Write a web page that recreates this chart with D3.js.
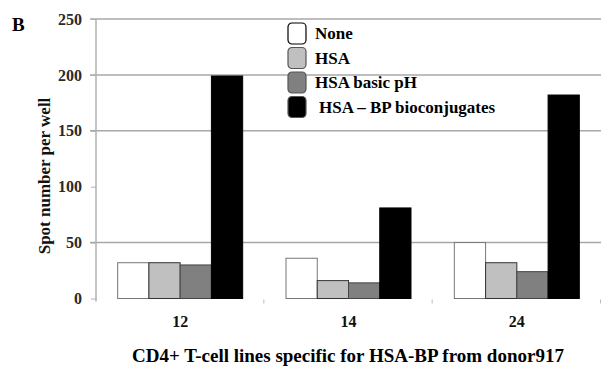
<!DOCTYPE html>
<html><head><meta charset="utf-8">
<script src="https://cdn.jsdelivr.net/npm/d3@7"></script>
<style>body{margin:0;background:#fff}svg{display:block}
text{font-family:"Liberation Serif","Times New Roman",Times,serif;}</style>
</head><body>
<svg id="c" width="601" height="374"></svg>
<script>
const categories = ["12", "14", "24"];
const seriesNames = ["None", "HSA", "HSA basic pH", "HSA \u2013 BP bioconjugates"];
const noneVals = [32, 36, 50];
const hsaVals = [32, 16, 32];
const hsaBasicVals = [30, 14, 24];
const bioconjVals = [199, 81, 182];
const yTicks = [0, 50, 100, 150, 200, 250];
const gridVals = [50, 150, 200, 250];

const seriesVals = [noneVals, hsaVals, hsaBasicVals, bioconjVals];
const fills = ["#ffffff", "#c0c0c0", "#808080", "#000000"];
const strokes = ["#777", "#333", "#444", "#000"];

const svg = d3.select("#c");
const m = {l: 96, r: 601, t: 19, b: 298.5};
const y = d3.scaleLinear().domain([0, 250]).range([m.b, m.t]);
const x0 = d3.scaleBand().domain(categories).range([m.l, m.r]);
const inner = 125;
const x1 = d3.scaleBand().domain(d3.range(4)).range([0, inner]);
const off = (x0.bandwidth() - inner) / 2;

svg.append("g").selectAll("line").data(gridVals).join("line")
  .attr("x1", m.l - 6).attr("x2", m.r)
  .attr("y1", d => y(d)).attr("y2", d => y(d))
  .attr("stroke", "#a8a8a8").attr("stroke-width", 1.5);

const ya = svg.append("g").attr("transform", `translate(${m.l},0)`)
  .call(d3.axisLeft(y).tickValues(yTicks).tickSize(5).tickPadding(9));
ya.select(".domain").attr("stroke", "#b0b0b0").attr("stroke-width", 1.5)
  .attr("d", `M0,${m.t}V${m.b + 3}`);
ya.selectAll(".tick line").attr("stroke", "#b0b0b0");
ya.selectAll("text").attr("font-family", null).attr("font-size", 16)
  .attr("font-weight", "bold").attr("fill", "#2a2a2a");

const gs = svg.append("g").selectAll("g").data(categories).join("g")
  .attr("transform", c => `translate(${x0(c) + off},0)`);
gs.selectAll("rect").data((c, ci) => seriesVals.map((s, si) => ({si, v: s[ci]})))
  .join("rect")
  .attr("x", d => x1(d.si)).attr("width", x1.bandwidth())
  .attr("y", d => y(d.v)).attr("height", d => y(0) - y(d.v))
  .attr("fill", d => fills[d.si]).attr("stroke", d => strokes[d.si]).attr("stroke-width", 1);

svg.append("g").selectAll("line").data(categories).join("line")
  .attr("x1", c => x0(c) + x0.bandwidth() - 0.5)
  .attr("x2", c => x0(c) + x0.bandwidth() - 0.5)
  .attr("y1", m.b + 1).attr("y2", m.b + 5).attr("stroke", "#bbb");

svg.append("g").selectAll("text").data(categories).join("text")
  .attr("x", c => x0(c) + x0.bandwidth() / 2).attr("y", 327)
  .attr("text-anchor", "middle")
  .attr("font-size", 16).attr("font-weight", "bold").attr("fill", "#111").text(c => c);

svg.append("text").attr("x", 348).attr("y", 362).attr("text-anchor", "middle")
  .attr("font-size", 19).attr("font-weight", "bold")
  .attr("fill", "#000").text("CD4+ T-cell lines specific for HSA-BP from donor917");

svg.append("text").attr("transform", "translate(50,176) rotate(-90)").attr("text-anchor", "middle")
  .attr("font-size", 17).attr("font-weight", "bold")
  .attr("fill", "#111").text("Spot number per well");

svg.append("text").attr("x", 12).attr("y", 31)
  .attr("font-size", 19).attr("font-weight", "bold").text("B");

const lg = svg.append("g").selectAll("g").data(seriesNames).join("g")
  .attr("transform", (d, i) => `translate(288,${23 + i * 24.5})`);
lg.append("rect").attr("width", 18).attr("height", 21).attr("rx", 4)
  .attr("fill", (d, i) => fills[i]).attr("stroke", (d, i) => i === 0 ? "#000" : "#555").attr("stroke-width", 1.2);
lg.append("text").attr("x", (d, i) => i === 3 ? 31 : 27).attr("y", 16)
  .attr("font-size", 17).attr("font-weight", "bold")
  .attr("fill", "#000").text(d => d);
</script>
</body></html>
